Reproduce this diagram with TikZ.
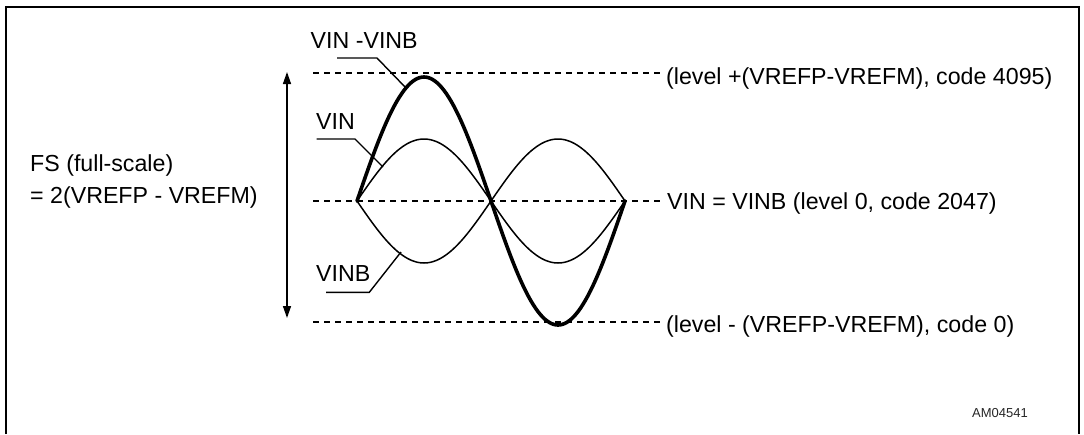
\documentclass[tikz,border=0pt]{standalone}
\usepackage{fontspec}
\setmainfont{Liberation Sans}
\usetikzlibrary{arrows.meta}
\newcommand\labelfont{\fontsize{23.2}{27}\selectfont}
\begin{document}
\begin{tikzpicture}[x=1pt,y=-1pt,
  lbl/.style={font=\labelfont, inner sep=0pt},
  small/.style={font=\fontsize{13}{15}\selectfont, inner sep=0pt, text=black!85},
  refline/.style={dash pattern=on 6pt off 5pt, line width=1.2pt},
  thinwave/.style={line width=1.5pt, line join=round},
  thickwave/.style={line width=3.6pt, line join=round, line cap=round},
  leader/.style={line width=1.4pt},
  frame/.style={line width=2.4pt},
  fsarrow/.style={line width=1.4pt, {Triangle[length=12pt,width=8pt]}-{Triangle[length=12pt,width=8pt]}}]
\useasboundingbox (0,0) rectangle (1084,434);
% frame
\draw[frame] (6,434) -- (6,7) -- (1079,7) -- (1079,434);

% reference levels
\node[lbl, anchor=base west] (ltop) at (666,84) {(level +(VREFP-VREFM), code 4095)};
\node[lbl, anchor=base west] (lmid) at (667,209) {VIN = VINB (level 0, code 2047)};
\node[lbl, anchor=base west] (lbot) at (666,332) {(level - (VREFP-VREFM), code 0)};
\coordinate (ltopS) at (313,73);
\coordinate (ltopE) at (660,73);
\coordinate (lmidS) at (313,201);
\coordinate (lmidE) at (660,201);
\coordinate (lbotS) at (313,322);
\coordinate (lbotE) at (660,322);
\draw[refline] (ltopS) -- (ltopE);
\draw[refline] (lmidS) -- (lmidE);
\draw[refline] (lbotS) -- (lbotE);

% full-scale arrow
\coordinate (fsT) at (287,72);
\coordinate (fsB) at (287,318);
\draw[fsarrow] (fsT) -- (fsB);
\node[lbl, anchor=base west] (fs) at (30,171.7) {FS (full-scale)};
\node[lbl, anchor=base west] (fs2) at (30,203.3) {= 2(VREFP - VREFM)};

% waves (x = phase in degrees, 360 deg = 268 px)
\draw[thinwave] plot[domain=0:360,samples=121,smooth] ({357+\x*0.74444},{201-62*sin(\x)});
\draw[thinwave] plot[domain=0:360,samples=121,smooth] ({357+\x*0.74444},{201+62*sin(\x)});
\draw[thickwave] plot[domain=0:360,samples=121,smooth] ({357+\x*0.74444},{201-124*sin(\x)});

% labels with leaders
\node[lbl, anchor=base west] (vd) at (310.5,48.3) {VIN -VINB};
\coordinate (vdA) at (337,58);
\coordinate (vdB) at (377,58);
\coordinate (vdC) at (406,88);
\draw[leader] (vdA) -- (vdB) -- (vdC);

\node[lbl, anchor=base west] (vin) at (316,129.3) {VIN};
\coordinate (vinA) at (316.7,139);
\coordinate (vinB) at (355,139);
\coordinate (vinC) at (383,167);
\draw[leader] (vinA) -- (vinB) -- (vinC);

\node[lbl, anchor=base west] (vinb) at (316,281) {VINB};
\coordinate (vinbA) at (326,292.3);
\coordinate (vinbB) at (369.3,292.3);
\coordinate (vinbC) at (401,252);
\draw[leader] (vinbA) -- (vinbB) -- (vinbC);

\node[small, anchor=base west] (am) at (972,417) {AM04541};
\end{tikzpicture}
\end{document}
